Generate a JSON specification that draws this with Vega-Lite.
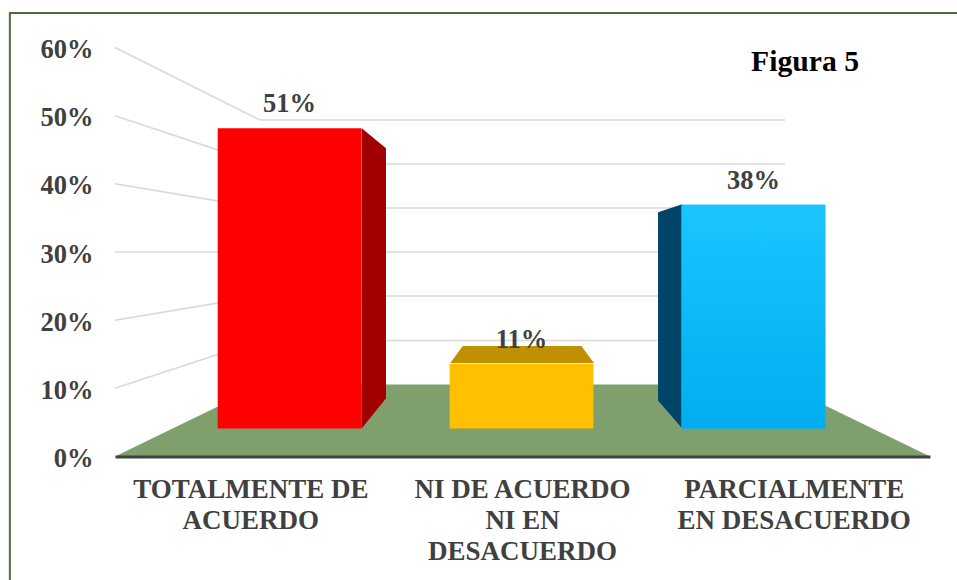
{
"$schema":"https://vega.github.io/schema/vega-lite/v6.json",
"width":815,"height":409,
"autosize":{"type":"none"},
"padding":{"left":115,"top":47.5,"right":27,"bottom":123.5},
"background":"#ffffff",
"view":{"stroke":null},
"title":{"text":"Figura 5","anchor":"start","frame":"group","dx":636,"dy":70,"font":"Liberation Serif","fontSize":29.7,"fontWeight":"bold","color":"#000000"},
"datasets":{
"bars":[
{"categoria":"TOTALMENTE DE ACUERDO","valor":0.51},
{"categoria":"NI DE ACUERDO NI EN DESACUERDO","valor":0.11},
{"categoria":"PARCIALMENTE EN DESACUERDO","valor":0.38}],
"grid":[
{"tick":60,"px":0,"v":60},{"tick":60,"px":17.79,"v":49.36},{"tick":60,"px":82.21,"v":49.36},
{"tick":50,"px":0,"v":50},{"tick":50,"px":17.79,"v":42.91},{"tick":50,"px":82.21,"v":42.91},
{"tick":40,"px":0,"v":40},{"tick":40,"px":17.79,"v":36.45},{"tick":40,"px":82.21,"v":36.45},
{"tick":30,"px":0,"v":30},{"tick":30,"px":17.79,"v":30.0},{"tick":30,"px":82.21,"v":30.0},
{"tick":20,"px":0,"v":20},{"tick":20,"px":17.79,"v":23.55},{"tick":20,"px":82.21,"v":23.55},
{"tick":10,"px":0,"v":10},{"tick":10,"px":17.79,"v":17.02},{"tick":10,"px":82.21,"v":17.02}],
"floor":[
{"px":0,"v":0,"v0":0},{"px":18.16,"v":10.56,"v0":0},{"px":81.84,"v":10.56,"v0":0},{"px":100,"v":0,"v0":0}],
"faces":[
{"cara":"rojo","px":30.27,"v":48.15,"v0":4.11},{"cara":"rojo","px":33.25,"v":45.21,"v0":8.54},
{"cara":"amarillo","px":41.14,"v":13.72,"v0":13.72},{"cara":"amarillo","px":42.67,"v":16.21,"v0":13.72},{"cara":"amarillo","px":57.23,"v":16.21,"v0":13.72},{"cara":"amarillo","px":58.76,"v":13.72,"v0":13.72},
{"cara":"azul","px":66.63,"v":35.82,"v0":8.23},{"cara":"azul","px":69.6,"v":37.0,"v0":4.11}],
"frame":[{"a":-12.9,"b":120,"top":65.06,"bottom":-30}]
},
"layer":[
{"data":{"name":"frame"},
 "mark":{"type":"rect","fill":null,"stroke":"#4f6b35","strokeWidth":2,"clip":false},
 "encoding":{
  "x":{"field":"a","type":"quantitative","scale":{"domain":[0,100],"zero":false},"axis":null},
  "x2":{"field":"b"},
  "y":{"field":"top","type":"quantitative","scale":{"domain":[0,60],"zero":false},"axis":null},
  "y2":{"field":"bottom"}}},
{"data":{"name":"grid"},
 "mark":{"type":"line","stroke":"#d9d9d9","strokeWidth":1.6,"interpolate":"linear"},
 "encoding":{
  "x":{"field":"px","type":"quantitative","scale":{"domain":[0,100]},"axis":null},
  "y":{"field":"v","type":"quantitative","scale":{"domain":[0,60]},
   "axis":{"title":null,"values":[0,10,20,30,40,50,60],"domain":false,"ticks":false,"grid":false,"labelExpr":"datum.value+'%'","labelFont":"Liberation Serif","labelFontSize":26.5,"labelFontWeight":"bold","labelColor":"#404040","labelPadding":22,"labelOffset":2}},
  "detail":{"field":"tick"}}},
{"data":{"name":"floor"},
 "mark":{"type":"area","fill":"#7f9f6d","interpolate":"linear"},
 "encoding":{
  "x":{"field":"px","type":"quantitative","scale":{"domain":[0,100]},"axis":null},
  "y":{"field":"v","type":"quantitative","scale":{"domain":[0,60]},"axis":null,"stack":null},
  "y2":{"field":"v0"}}},
{"data":{"name":"bars"},
 "mark":{"type":"rule","opacity":0},
 "encoding":{
  "x":{"field":"categoria","type":"nominal","sort":null,"scale":{"type":"band"},
   "axis":{"title":null,"orient":"bottom","ticks":false,"grid":false,"domain":true,"domainColor":"#404040","domainWidth":3,"zindex":1,"labelAngle":0,"labelLimit":0,"labelAlign":"center","labelBaseline":"top","labelPadding":20,"labelFont":"Liberation Serif","labelFontSize":27,"labelFontWeight":"bold","labelColor":"#404040","labelLineHeight":31,
    "labelExpr":"datum.value=='TOTALMENTE DE ACUERDO'?['TOTALMENTE DE','ACUERDO']:datum.value=='NI DE ACUERDO NI EN DESACUERDO'?['NI DE ACUERDO','NI EN','DESACUERDO']:['PARCIALMENTE','EN DESACUERDO']"}}}},
{"data":{"name":"faces"},
 "mark":{"type":"area","interpolate":"linear"},
 "encoding":{
  "x":{"field":"px","type":"quantitative","scale":{"domain":[0,100]},"axis":null},
  "y":{"field":"v","type":"quantitative","scale":{"domain":[0,60]},"axis":null,"stack":null},
  "y2":{"field":"v0"},
  "color":{"field":"cara","type":"nominal","legend":null,"scale":{"domain":["rojo","amarillo","azul"],"range":["#a00000","#c09000","#004568"]}}}},
{"data":{"name":"bars"},
 "mark":{"type":"bar"},
 "encoding":{
  "x":{"field":"categoria","type":"nominal","sort":null,"axis":null,"scale":{"type":"band","range":[102.7,710.3],"paddingInner":0.38,"paddingOuter":0}},
  "y":{"field":"valor","type":"quantitative","stack":null,"axis":null,"scale":{"domain":[-0.04776,0.6473],"zero":false}},
  "color":{"field":"categoria","type":"nominal","sort":null,"legend":null,"scale":{"range":["#ff0000","#ffc000","#0fb9f8"]}}}},
{"data":{"name":"bars"},
 "transform":[{"filter":"datum.categoria=='PARCIALMENTE EN DESACUERDO'"}],
 "mark":{"type":"bar","color":{"gradient":"linear","x1":0,"y1":0,"x2":0,"y2":1,"stops":[{"offset":0,"color":"#1ac5ff"},{"offset":1,"color":"#00aeef"}]}},
 "encoding":{
  "x":{"field":"categoria","type":"nominal","axis":null,"scale":{"type":"band","domain":["TOTALMENTE DE ACUERDO","NI DE ACUERDO NI EN DESACUERDO","PARCIALMENTE EN DESACUERDO"],"range":[102.7,710.3],"paddingInner":0.38,"paddingOuter":0}},
  "y":{"field":"valor","type":"quantitative","stack":null,"axis":null,"scale":{"domain":[-0.04776,0.6473],"zero":false}}}},
{"data":{"name":"bars"},
 "mark":{"type":"text","dy":-24,"font":"Liberation Serif","fontSize":26.5,"fontWeight":"bold","color":"#404040"},
 "encoding":{
  "x":{"field":"categoria","type":"nominal","sort":null,"axis":null,"scale":{"type":"band","range":[102.7,710.3],"paddingInner":0.38,"paddingOuter":0}},
  "y":{"field":"valor","type":"quantitative","stack":null,"axis":null,"scale":{"domain":[-0.04776,0.6473],"zero":false}},
  "text":{"field":"valor","type":"quantitative","format":".0%"}}}
],
"resolve":{"scale":{"x":"independent","y":"independent","color":"independent"},"axis":{"x":"independent","y":"independent"}}
}
